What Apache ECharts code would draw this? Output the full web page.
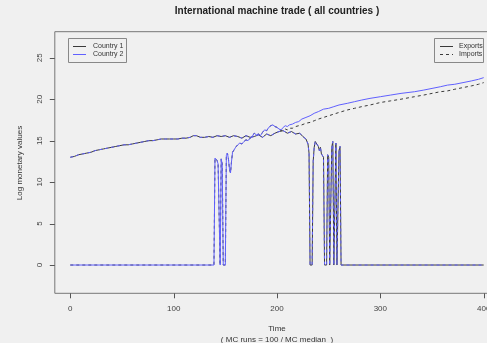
<!DOCTYPE html>
<html><head><meta charset="utf-8">
<script src="https://cdn.jsdelivr.net/npm/echarts@6/dist/echarts.min.js"></script>
<style>html,body{margin:0;padding:0;background:#f0f0f0}#c{width:487px;height:343px}</style>
</head><body><div id="c"></div>
<script>
// ---- data (time, log value) ----
const c1Exports = [[0,13.0],[4,13.1],[8,13.3],[12,13.4],[16,13.5],[20,13.6],[24,13.8],[28,13.9],[32,14.0],[36,14.1],[40,14.2],[44,14.3],[48,14.4],[52,14.5],[56,14.5],[60,14.6],[64,14.7],[68,14.8],[72,14.9],[76,15.0],[80,15.0],[84,15.1],[88,15.2],[92,15.2],[96,15.2],[100,15.2],[104,15.2],[108,15.3],[112,15.3],[116,15.4],[119,15.6],[122,15.6],[126,15.4],[130,15.4],[134,15.5],[138,15.4],[142,15.6],[146,15.5],[150,15.6],[154,15.4],[158,15.6],[162,15.5],[166,15.3],[170,15.6],[174,15.4],[178,15.5],[182,15.7],[186,15.4],[190,15.8],[194,15.6],[198,15.9],[202,16.1],[206,16.2],[210,15.9],[214,16.1],[218,15.8],[222,15.9],[225,15.5],[228,15.2],[230,14.6],[231,13.5],[232,0],[234,0],[235,12.5],[236,14.2],[237,14.9],[238,14.7],[240,14.3],[241,13.8],[242,14.2],[243,13.4],[244,13.6],[245,13.0],[246,0],[248,0],[249,13.3],[250,13.0],[251,0],[252,0],[253,14.2],[254,14.9],[255,0],[256,0],[257,14.7],[258,0],[259,0],[260,13.8],[261,14.3],[262,0],[400,0]];
const c2Imports = [[0,13.0],[4,13.1],[8,13.3],[12,13.4],[16,13.5],[20,13.6],[24,13.8],[28,13.9],[32,14.0],[36,14.1],[40,14.2],[44,14.3],[48,14.4],[52,14.5],[56,14.5],[60,14.6],[64,14.7],[68,14.8],[72,14.9],[76,15.0],[80,15.0],[84,15.1],[88,15.2],[92,15.2],[96,15.2],[100,15.2],[104,15.2],[108,15.3],[112,15.3],[116,15.4],[119,15.6],[122,15.6],[126,15.4],[130,15.4],[134,15.5],[138,15.4],[142,15.6],[146,15.5],[150,15.6],[154,15.4],[158,15.6],[162,15.5],[166,15.3],[170,15.6],[174,15.4],[178,15.5],[182,15.7],[186,15.4],[190,15.8],[194,15.6],[198,15.9],[202,16.1],[206,16.2],[210,15.9],[214,16.1],[218,15.8],[222,15.9],[225,15.5],[228,15.2],[230,14.6],[231,13.5],[232,0],[234,0],[235,12.5],[236,14.2],[237,14.9],[238,14.7],[240,14.3],[241,13.8],[242,14.2],[243,13.4],[244,13.6],[245,13.0],[246,0],[248,0],[249,13.3],[250,13.0],[251,0],[252,0],[253,14.2],[254,14.9],[255,0],[256,0],[257,14.7],[258,0],[259,0],[260,13.8],[261,14.3],[262,0],[400,0]];
const c2Exports = [[0,0],[139,0],[140,12.9],[141,13.1],[142,12.6],[143,12.2],[144,6],[145,0],[146,12.8],[147,12.2],[148,0],[150,0],[151,13.2],[152,13.5],[153,12.8],[154,11.6],[155,11.1],[156,12.5],[157,13.6],[158,13.8],[160,14.2],[162,14.5],[164,14.7],[166,14.6],[168,14.9],[170,15.1],[172,15.0],[174,15.3],[176,15.5],[178,15.9],[180,15.7],[182,15.8],[184,15.6],[186,16.0],[188,16.3],[190,16.2],[192,16.6],[194,16.8],[196,16.9],[198,16.7],[200,16.6],[202,16.4],[204,16.3],[206,16.6],[208,16.8],[210,16.7],[212,16.9],[215,17.0],[218,17.2],[221,17.3],[224,17.6],[228,17.8],[232,18.0],[236,18.3],[240,18.5],[245,18.8],[250,18.9],[255,19.1],[260,19.3],[268,19.5],[275,19.7],[282,19.9],[290,20.1],[300,20.3],[310,20.5],[320,20.7],[333,20.9],[342,21.1],[350,21.3],[358,21.5],[365,21.7],[372,21.8],[380,22.0],[388,22.2],[395,22.4],[400,22.6]];
const c1Imports = [[0,0],[139,0],[140,12.9],[141,13.1],[142,12.6],[143,12.2],[144,6],[145,0],[146,12.8],[147,12.2],[148,0],[150,0],[151,13.2],[152,13.5],[153,12.8],[154,11.6],[155,11.1],[156,12.5],[157,13.6],[158,13.8],[160,14.2],[162,14.5],[164,14.7],[166,14.6],[168,14.9],[170,15.1],[172,15.0],[174,15.3],[176,15.5],[178,15.9],[180,15.7],[182,15.8],[184,15.6],[186,16.0],[188,16.3],[190,16.2],[192,16.6],[194,16.8],[196,16.9],[198,16.7],[200,16.6],[202,16.4],[204,16.2],[206,16.3],[208,16.4],[210,16.3],[212,16.5],[215,16.5],[218,16.7],[221,16.8],[224,16.9],[228,17.1],[232,17.2],[236,17.4],[240,17.6],[245,17.8],[250,18.0],[255,18.2],[260,18.4],[268,18.7],[275,18.9],[282,19.1],[290,19.3],[300,19.6],[310,19.8],[320,20.0],[333,20.3],[342,20.5],[350,20.7],[358,20.9],[365,21.0],[372,21.2],[380,21.4],[388,21.6],[395,21.8],[400,22.0]];
const xTicks = [0,100,200,300,400];
const yTicks = [0,5,10,15,20,25];
const countryNames = ['Country 1','Country 2'];
const flowNames = ['Exports','Imports'];
const titleText = 'International machine trade ( all countries )';
const xTitle = 'Time';
const xSubtitle = '( MC runs = 100 / MC median  )';
const yTitle = 'Log monetary values';

const FONT = '"Liberation Sans", Arial, sans-serif';
const BLACK = '#3a3a3a', BLUE = '#6060ff', TXT = '#333', AX = '#777', TICK = '#555';
const GRID = {left:54.8, top:31.7, width:444.4, height:261.6};
const X_MIN = -15, X_MAX = 415, Y_MIN = -3.41, Y_MAX = 28.14;
const chart = echarts.init(document.getElementById('c'), null, {renderer:'canvas'});
const mk = (name, data, color, dashed) => ({
  name, type:'line', data, showSymbol:false, symbol:'none', animation:false,
  lineStyle:{color, width:1, type: dashed ? [3,3] : 'solid'}, emphasis:{disabled:true}
});
const graphics = [
    {type:'text', style:{text:titleText, x:277, y:11, align:'center', verticalAlign:'middle', font:'bold 10px '+FONT, fill:'#222'}},
    {type:'text', style:{text:xTitle, x:277, y:329, align:'center', verticalAlign:'middle', font:'8px '+FONT, fill:TXT}},
    {type:'text', style:{text:xSubtitle, x:277, y:339.5, align:'center', verticalAlign:'middle', font:'8px '+FONT, fill:TXT}},
    {type:'text', x:20, y:163, rotation:Math.PI/2, style:{text:yTitle, x:0, y:0, align:'center', verticalAlign:'middle', font:'8px '+FONT, fill:TXT}},
    // legend 1
    {type:'rect', shape:{x:68.5, y:38.5, width:58, height:24}, style:{fill:'#f0f0f0', stroke:'#888', lineWidth:1}},
    {type:'line', shape:{x1:73, y1:46.5, x2:86, y2:46.5}, style:{stroke:BLACK, lineWidth:1}},
    {type:'line', shape:{x1:73, y1:54.5, x2:86, y2:54.5}, style:{stroke:BLUE, lineWidth:1}},
    {type:'text', style:{text:countryNames[0], x:93, y:46.5, verticalAlign:'middle', font:'7px '+FONT, fill:TXT}},
    {type:'text', style:{text:countryNames[1], x:93, y:54.5, verticalAlign:'middle', font:'7px '+FONT, fill:TXT}},
    // legend 2
    {type:'rect', shape:{x:434.5, y:38.5, width:49, height:24}, style:{fill:'#f0f0f0', stroke:'#888', lineWidth:1}},
    {type:'line', shape:{x1:440, y1:46.5, x2:453, y2:46.5}, style:{stroke:BLACK, lineWidth:1}},
    {type:'line', shape:{x1:440, y1:54.5, x2:453, y2:54.5}, style:{stroke:BLACK, lineWidth:1, lineDash:[3,3]}},
    {type:'text', style:{text:flowNames[0], x:459, y:46.5, verticalAlign:'middle', font:'7px '+FONT, fill:TXT}},
    {type:'text', style:{text:flowNames[1], x:459, y:54.5, verticalAlign:'middle', font:'7px '+FONT, fill:TXT}}
];
// tick marks: same linear axis mapping the chart uses (min/max -> grid extent)
const gridBottom = GRID.top + GRID.height;
const xPix = v => GRID.left + (v - X_MIN) / (X_MAX - X_MIN) * GRID.width;
const yPix = v => gridBottom - (v - Y_MIN) / (Y_MAX - Y_MIN) * GRID.height;
xTicks.forEach(v => {
  const px = Math.round(xPix(v)) + 0.5;
  graphics.push({type:'line', shape:{x1:px, y1:gridBottom, x2:px, y2:gridBottom + 5}, style:{stroke:TICK, lineWidth:1}});
});
yTicks.forEach(v => {
  const py = Math.round(yPix(v)) + 0.5;
  graphics.push({type:'line', shape:{x1:GRID.left - 5, y1:py, x2:GRID.left, y2:py}, style:{stroke:TICK, lineWidth:1}});
});
chart.setOption({
  backgroundColor:'#f0f0f0',
  animation:false,
  grid:Object.assign({show:true, borderColor:AX, borderWidth:1, backgroundColor:'transparent', outerBoundsMode:'none', containLabel:false}, GRID),
  xAxis:{type:'value', min:X_MIN, max:X_MAX, position:'bottom',
    axisLine:{show:false, onZero:false},
    splitLine:{show:false},
    axisTick:{show:false},
    axisLabel:{show:true, margin:11, fontSize:8, fontFamily:FONT, color:'#444', customValues:xTicks, showMinLabel:true, showMaxLabel:true}
  },
  yAxis:{type:'value', min:Y_MIN, max:Y_MAX, position:'left',
    axisLine:{show:false, onZero:false},
    splitLine:{show:false},
    axisTick:{show:false},
    axisLabel:{show:true, rotate:90, margin:11, fontSize:8, fontFamily:FONT, color:'#444', customValues:yTicks}
  },
  series:[
    mk('c1Exports', c1Exports, BLACK, false),
    mk('c1Imports', c1Imports, BLACK, true),
    mk('c2Exports', c2Exports, BLUE, false),
    mk('c2Imports', c2Imports, BLUE, true)
  ],
  graphic:{elements: graphics}
});
</script></body></html>
